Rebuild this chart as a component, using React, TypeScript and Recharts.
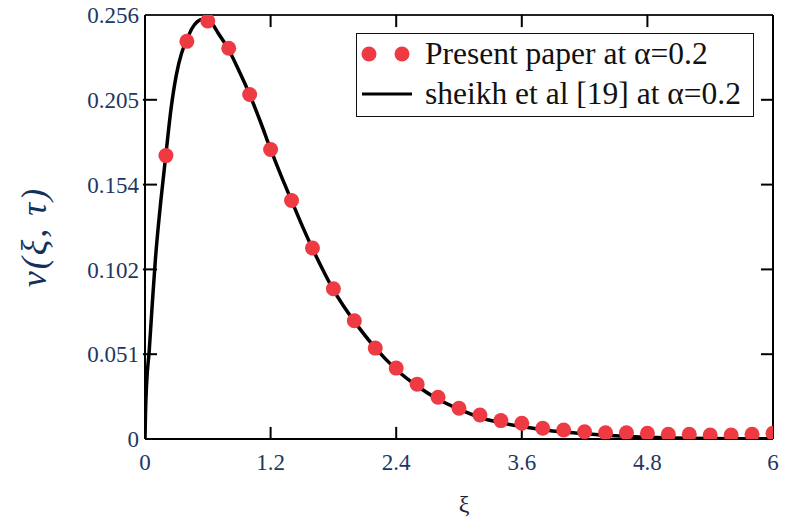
import { ComposedChart, Line, XAxis, YAxis, ReferenceLine } from "recharts";

// Present paper (red dots), xi step 0.2
const dotXi = [
    0.2, 0.4, 0.6, 0.8, 1.0, 1.2, 1.4, 1.6, 1.8, 2.0,
    2.2, 2.4, 2.6, 2.8, 3.0, 3.2, 3.4, 3.6, 3.8, 4.0,
    4.2, 4.4, 4.6, 4.8, 5.0, 5.2, 5.4, 5.6, 5.8, 6.0,
];
const dotV = [
    0.1711, 0.2401, 0.2524, 0.2359, 0.208, 0.1748, 0.144, 0.1153, 0.0907, 0.0714,
    0.0549, 0.0428, 0.0331, 0.0252, 0.0186, 0.0145, 0.0111, 0.0095, 0.0065, 0.0054,
    0.0044, 0.0038, 0.0038, 0.0034, 0.0028, 0.0028, 0.0024, 0.0024, 0.0028, 0.0034,
];

// sheikh et al [19] (black line)
const lineXi = [
    0, 0.005, 0.015, 0.04, 0.07, 0.1, 0.15, 0.2, 0.25, 0.3, 0.35, 0.4, 0.45, 0.5,
    0.55, 0.6, 0.65, 0.7, 0.8, 0.9, 1.0, 1.1, 1.2, 1.3, 1.4, 1.5, 1.6, 1.7, 1.8,
    1.9, 2.0, 2.2, 2.4, 2.6, 2.8, 3.0, 3.2, 3.4, 3.6, 3.8, 4.0, 4.2, 4.4, 4.6,
    4.8, 5.0, 5.2, 5.6, 6.0,
];
const lineV = [
    0, 0.016, 0.033, 0.053, 0.082, 0.109, 0.143, 0.172, 0.2, 0.22, 0.233, 0.241, 0.248, 0.252,
    0.2535, 0.253, 0.25, 0.245, 0.235, 0.222, 0.208, 0.192, 0.175, 0.159, 0.144, 0.129, 0.115, 0.102, 0.09,
    0.08, 0.071, 0.055, 0.042, 0.032, 0.024, 0.018, 0.013, 0.0098, 0.0075, 0.0056, 0.0042, 0.0032, 0.0022, 0.0015,
    0.001, 0.0007, 0.0004, 0.0002, 0.0001,
];

const xTicks = [0, 1.2, 2.4, 3.6, 4.8, 6];
const xTickLabels = ["0", "1.2", "2.4", "3.6", "4.8", "6"];
const yTicks = [0, 0.0512, 0.1024, 0.1536, 0.2048, 0.256];
const yTickLabels = ["0", "0.051", "0.102", "0.154", "0.205", "0.256"];

const X_MAX = 6;
const Y_MAX = 0.256;
// inward tick length expressed in axis units (about 12px)
const TICK_DX = 0.115;
const TICK_DY = 0.0073;

const dotData = dotXi.map((x, i) => ({ x, v: dotV[i] }));
const lineData = lineXi.map((x, i) => ({ x, v: lineV[i] }));

const RED = "#ee3a43";
const TICK_COLOR = "#1d3762";
const SERIF = "'Liberation Serif', 'Times New Roman', serif";
const X_MARGIN = 15;
const Y_MARGIN = 6;

function BottomTick(props: any) {
    const { x, y, payload } = props;
    const label = xTickLabels[xTicks.indexOf(payload.value)];
    return (
        <text x={x} y={y} dy="0.71em" textAnchor="middle" fontSize={23} fontFamily={SERIF} fill={TICK_COLOR}>
            {label}
        </text>
    );
}

function LeftTick(props: any) {
    const { x, y, payload } = props;
    const label = yTickLabels[yTicks.indexOf(payload.value)];
    return (
        <text x={x} y={y} dy="0.355em" textAnchor="end" fontSize={23} fontFamily={SERIF} fill={TICK_COLOR}>
            {label}
        </text>
    );
}

function LegendBox() {
    const textStyle = {
        position: "absolute" as const,
        left: 68,
        top: 1,
        whiteSpace: "nowrap" as const,
        lineHeight: "38px",
    };
    return (
        <div
            style={{
                position: "absolute",
                left: 356,
                top: 33,
                width: 396,
                height: 82,
                border: "1.5px solid #111",
                background: "#fff",
                fontFamily: SERIF,
                fontSize: 31.5,
                color: "#111",
            }}
        >
            <div style={{ position: "relative", height: 40 }}>
                <svg width={60} height={40} style={{ position: "absolute", left: 0, top: 0 }}>
                    <circle cx={12} cy={20} r={7.5} fill={RED} />
                    <circle cx={45} cy={20} r={7.5} fill={RED} />
                </svg>
                <span style={textStyle}>Present paper at α=0.2</span>
            </div>
            <div style={{ position: "relative", height: 40 }}>
                <svg width={60} height={40} style={{ position: "absolute", left: 0, top: 0 }}>
                    <line x1={5} y1={20} x2={55} y2={20} stroke="#000" strokeWidth={3} />
                </svg>
                <span style={textStyle}>sheikh et al [19] at α=0.2</span>
            </div>
        </div>
    );
}

export default function App() {
    const innerX = xTicks.slice(1, -1);
    const innerY = yTicks.slice(1, -1);
    return (
        <div style={{ position: "relative", width: 785, height: 520, background: "#fff" }}>
            <style>{`body{margin:0}`}</style>
            <ComposedChart
                width={785}
                height={520}
                margin={{ top: 15, right: 12, left: 75, bottom: 31 }}
            >
                <XAxis
                    dataKey="x"
                    type="number"
                    domain={[0, X_MAX]}
                    ticks={xTicks}
                    allowDataOverflow
                    height={50}
                    tickSize={0}
                    tickMargin={X_MARGIN}
                    axisLine={{ stroke: "#000", strokeWidth: 2 }}
                    tickLine={false}
                    tick={<BottomTick />}
                    interval={0}
                />
                <YAxis
                    type="number"
                    domain={[0, Y_MAX]}
                    ticks={yTicks}
                    allowDataOverflow
                    width={70}
                    tickSize={0}
                    tickMargin={Y_MARGIN}
                    axisLine={{ stroke: "#000", strokeWidth: 2 }}
                    tickLine={false}
                    tick={<LeftTick />}
                    interval={0}
                />
                {/* frame top and right */}
                <ReferenceLine y={Y_MAX} stroke="#222" strokeWidth={2} ifOverflow="visible" />
                <ReferenceLine x={X_MAX} stroke="#000" strokeWidth={2} ifOverflow="visible" />
                {/* inward ticks on all four sides */}
                {innerX.map((t) => (
                    <ReferenceLine key={`b${t}`} segment={[{ x: t, y: 0 }, { x: t, y: TICK_DY }]} stroke="#000" strokeWidth={2} ifOverflow="visible" />
                ))}
                {innerX.map((t) => (
                    <ReferenceLine key={`t${t}`} segment={[{ x: t, y: Y_MAX }, { x: t, y: Y_MAX - TICK_DY }]} stroke="#000" strokeWidth={2} ifOverflow="visible" />
                ))}
                {innerY.map((t) => (
                    <ReferenceLine key={`l${t}`} segment={[{ x: -0.02, y: t }, { x: TICK_DX, y: t }]} stroke="#000" strokeWidth={2} ifOverflow="visible" />
                ))}
                {innerY.map((t) => (
                    <ReferenceLine key={`r${t}`} segment={[{ x: X_MAX - TICK_DX, y: t }, { x: X_MAX, y: t }]} stroke="#000" strokeWidth={2} ifOverflow="visible" />
                ))}
                <Line
                    data={dotData}
                    dataKey="v"
                    name="Present paper at α=0.2"
                    stroke="none"
                    dot={{ r: 7.5, fill: RED, stroke: "none" }}
                    activeDot={false}
                    isAnimationActive={false}
                />
                <Line
                    data={lineData}
                    dataKey="v"
                    name="sheikh et al [19] at α=0.2"
                    type="monotone"
                    stroke="#000"
                    strokeWidth={3.5}
                    dot={false}
                    activeDot={false}
                    isAnimationActive={false}
                />
            </ComposedChart>
            <LegendBox />
            <div
                style={{
                    position: "absolute",
                    left: 34,
                    top: 237,
                    transform: "translate(-50%, -50%) rotate(-90deg)",
                    fontFamily: SERIF,
                    fontStyle: "italic",
                    fontSize: 36,
                    color: "#13315c",
                    whiteSpace: "nowrap",
                    letterSpacing: 2,
                }}
            >
                ν(ξ, τ)
            </div>
            <div
                style={{
                    position: "absolute",
                    left: 464,
                    top: 504,
                    transform: "translate(-50%, -50%)",
                    fontFamily: SERIF,
                    fontSize: 24,
                    color: "#1a2233",
                }}
            >
                ξ
            </div>
        </div>
    );
}
